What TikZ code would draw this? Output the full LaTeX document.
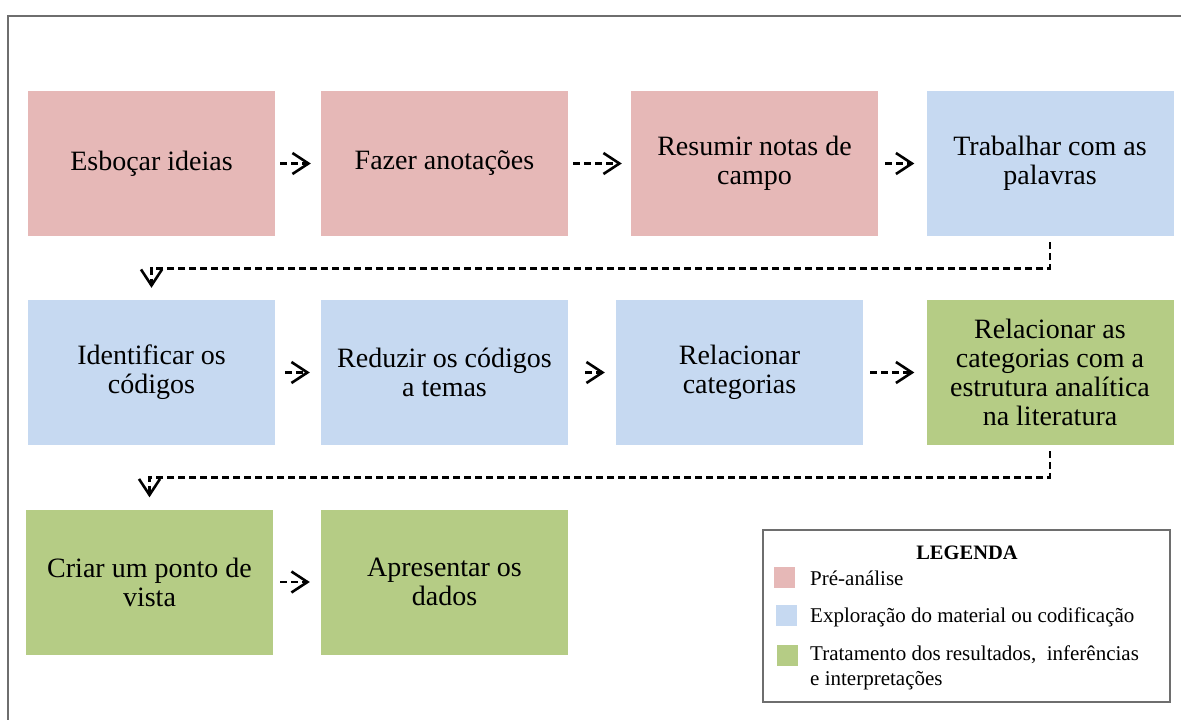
\documentclass[tikz,border=0pt]{standalone}
\usepackage{fontspec}
\setmainfont{Liberation Serif}
\usetikzlibrary{arrows.meta}
\definecolor{preanalise}{HTML}{E6B8B7}
\definecolor{exploracao}{HTML}{C6D9F1}
\definecolor{tratamento}{HTML}{B5CC85}
\definecolor{framegray}{HTML}{6E6E6E}
\tikzset{
  stepbox/.style={rectangle, minimum width=247pt, minimum height=145pt, inner sep=0pt,
    align=center, font=\fontsize{28}{29}\selectfont, text=black},
  pink/.style={stepbox, fill=preanalise},
  blue/.style={stepbox, fill=exploracao},
  green/.style={stepbox, fill=tratamento},
  flow/.style={draw=black, line width=2.6pt, dash pattern=on 7pt off 4pt,
    -{Straight Barb[length=16pt, width=21pt, line width=2.6pt]}},
  swatch/.style={rectangle, minimum width=21pt, minimum height=21pt, inner sep=0pt},
  legtext/.style={anchor=west, align=left, inner sep=0pt,
    font=\fontsize{21}{25}\selectfont}
}
\begin{document}
\begin{tikzpicture}[x=1pt, y=-1pt]
\useasboundingbox (0,0) rectangle (1181,720);
% outer frame (top and left edges)
\draw[framegray, line width=1.5pt] (8,720) -- (8,16) -- (1181,16);

% first row
\node[pink]  (b1) at (151.5,163.5) {Esboçar ideias};
\node[pink]  (b2) at (444.5,163.5) {Fazer anotações};
\node[pink]  (b3) at (754.5,163.5) {Resumir notas de\\campo};
\node[blue]  (b4) at (1050,163.5)  {Trabalhar com as\\palavras};
% second row
\node[blue]  (b5) at (151.5,372.5) {Identificar os\\códigos};
\node[blue]  (b6) at (444.5,372.5) {Reduzir os códigos\\a temas};
\node[blue]  (b7) at (739.5,372.5) {Relacionar\\categorias};
\node[green] (b8) at (1050,372.5)  {Relacionar as\\categorias com a\\estrutura analítica\\na literatura};
% third row
\node[green] (b9)  at (149.5,582) {Criar um ponto de\\vista};
\node[green] (b10) at (444.5,582) {Apresentar os\\dados};

% connectors within rows
\draw[flow] ([xshift=5pt]b1.east) -- ([xshift=-10pt]b2.west);
\draw[flow] ([xshift=5pt]b2.east) -- ([xshift=-9pt]b3.west);
\draw[flow] ([xshift=7pt]b3.east) -- ([xshift=-12pt]b4.west);
\draw[flow] ([xshift=10pt]b5.east) -- ([xshift=-11pt]b6.west);
\draw[flow] ([xshift=17pt]b6.east) -- ([xshift=-11pt]b7.west);
\draw[flow] ([xshift=7pt]b7.east) -- ([xshift=-12pt]b8.west);
\draw[flow] ([xshift=7pt]b9.east) -- ([xshift=-11pt]b10.west);

% connectors between rows
\draw[flow] ([yshift=-6pt]b4.south) -- ++(0,26) -| ([yshift=12pt]b5.north);
\draw[flow] ([yshift=-6pt]b8.south) -- ++(0,26) -| ([yshift=12pt]b9.north);

% legend
\node[draw=framegray, line width=1.2pt, rectangle, minimum width=407pt, minimum height=172pt,
  inner sep=0pt] (legend) at (966.5,616) {};
\node[font=\fontsize{20.5}{24}\selectfont\bfseries, inner sep=0pt] (legtitle) at (967,553) {LEGENDA};
\node[swatch, fill=preanalise] (sw1) at (784.5,577.5) {};
\node[swatch, fill=exploracao] (sw2) at (786.5,615.5) {};
\node[swatch, fill=tratamento] (sw3) at (787.5,655.5) {};
\node[legtext] (lt1) at (810,578) {Pré-análise};
\node[legtext] (lt2) at (810,617) {Exploração do material ou codificação};
\node[legtext, anchor=north west] (lt3) at (810,646) {Tratamento dos resultados,\ \ inferências\\e interpretações};
\end{tikzpicture}
\end{document}
